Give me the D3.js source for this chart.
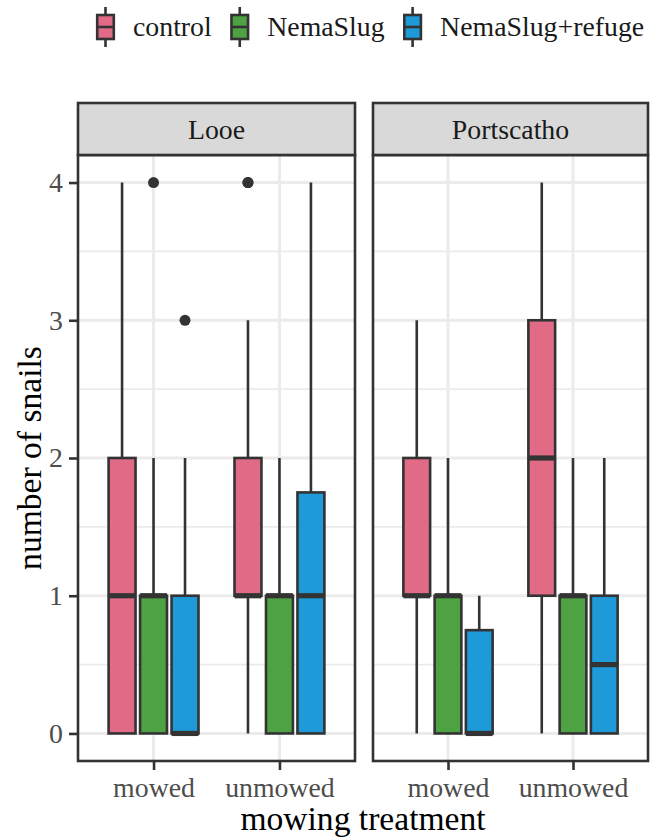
<!DOCTYPE html>
<html>
<head>
<meta charset="utf-8">
<script src="https://cdn.jsdelivr.net/npm/d3@7"></script>
<style>
  html, body { margin: 0; padding: 0; background: #fff; }
  svg { display: block; }
</style>
</head>
<body>
<svg id="chart" width="650" height="838" style="font-family:'Liberation Serif'"></svg>
<script>
// ---------------- data ----------------
const sites = ["Looe", "Portscatho"];
const mowingLevels = ["mowed", "unmowed"];
const treatments = ["control", "NemaSlug", "NemaSlug+refuge"];
const treatmentColors = ["#E16A86", "#4FA244", "#1D9AD7"];
const yTicks = [0, 1, 2, 3, 4];

// box order: site -> mowing -> treatment
const boxSite      = ["Looe","Looe","Looe","Looe","Looe","Looe",
                      "Portscatho","Portscatho","Portscatho","Portscatho","Portscatho","Portscatho"];
const boxMowing    = ["mowed","mowed","mowed","unmowed","unmowed","unmowed",
                      "mowed","mowed","mowed","unmowed","unmowed","unmowed"];
const boxTreatment = ["control","NemaSlug","NemaSlug+refuge","control","NemaSlug","NemaSlug+refuge",
                      "control","NemaSlug","NemaSlug+refuge","control","NemaSlug","NemaSlug+refuge"];
const whiskerLow   = [0, 0, 0,   0, 0, 0,    0, 0, 0,    0, 0, 0];
const quart1       = [0, 0, 0,   1, 0, 0,    1, 0, 0,    1, 0, 0];
const medians      = [1, 1, 0,   1, 1, 1,    1, 1, 0,    2, 1, 0.5];
const quart3       = [2, 1, 1,   2, 1, 1.75, 2, 1, 0.75, 3, 1, 1];
const whiskerHigh  = [4, 2, 2,   3, 2, 4,    3, 2, 1,    4, 2, 2];
const outliers     = [[], [4], [3], [4, 4], [], [], [], [], [], [], [], []];

// ---------------- layout ----------------
const FONT = "'Liberation Serif', 'Times New Roman', serif";
const svg = d3.select("#chart");
const panels = [{left: 78, right: 355}, {left: 373, right: 648}];
const panelTop = 155, panelBottom = 761, stripTop = 103;
const ink = "#333333";
const smallSize = 27.8, titleSize = 33.6;

const y = d3.scaleLinear().domain([-0.2, 4.2]).range([panelBottom, panelTop]);
const dodge = d3.scaleBand().domain(treatments).range([-0.375, 0.375]);
const boxW = 0.214;

sites.forEach((site, si) => {
  const p = panels[si];
  const x = d3.scaleLinear().domain([0.4, 2.6]).range([p.left, p.right]);
  const catX = d => x(mowingLevels.indexOf(d) + 1);
  const g = svg.append("g");

  g.selectAll(".ymin").data([0.5, 1.5, 2.5, 3.5]).enter()
    .append("line").attr("x1", p.left).attr("x2", p.right)
    .attr("y1", d => y(d)).attr("y2", d => y(d))
    .attr("stroke", "#EBEBEB").attr("stroke-width", 1.6);
  g.selectAll(".ymaj").data(yTicks).enter()
    .append("line").attr("x1", p.left).attr("x2", p.right)
    .attr("y1", d => y(d)).attr("y2", d => y(d))
    .attr("stroke", "#EBEBEB").attr("stroke-width", 3);
  g.selectAll(".xmaj").data(mowingLevels).enter()
    .append("line").attr("x1", catX).attr("x2", catX)
    .attr("y1", panelTop).attr("y2", panelBottom)
    .attr("stroke", "#EBEBEB").attr("stroke-width", 3);

  const idx = d3.range(boxSite.length).filter(i => boxSite[i] === site);
  idx.forEach(i => {
    const cx = x(mowingLevels.indexOf(boxMowing[i]) + 1 + dodge(boxTreatment[i]) + dodge.bandwidth() / 2);
    const half = (x(boxW) - x(0)) / 2;
    const col = treatmentColors[treatments.indexOf(boxTreatment[i])];
    g.append("line").attr("x1", cx).attr("x2", cx)
      .attr("y1", y(quart3[i])).attr("y2", y(whiskerHigh[i]))
      .attr("stroke", ink).attr("stroke-width", 2.6);
    g.append("line").attr("x1", cx).attr("x2", cx)
      .attr("y1", y(quart1[i])).attr("y2", y(whiskerLow[i]))
      .attr("stroke", ink).attr("stroke-width", 2.6);
    g.append("rect").attr("x", cx - half).attr("width", 2 * half)
      .attr("y", y(quart3[i])).attr("height", Math.max(0, y(quart1[i]) - y(quart3[i])))
      .attr("fill", col).attr("stroke", ink).attr("stroke-width", 2.6);
    g.append("line").attr("x1", cx - half).attr("x2", cx + half)
      .attr("y1", y(medians[i])).attr("y2", y(medians[i]))
      .attr("stroke", ink).attr("stroke-width", 5.2);
    g.selectAll(null).data(outliers[i]).enter().append("circle")
      .attr("cx", cx).attr("cy", d => y(d)).attr("r", 5.5).attr("fill", ink);
  });

  g.append("rect").attr("x", p.left).attr("y", panelTop)
    .attr("width", p.right - p.left).attr("height", panelBottom - panelTop)
    .attr("fill", "none").attr("stroke", ink).attr("stroke-width", 2.6);

  g.append("rect").attr("x", p.left).attr("y", stripTop)
    .attr("width", p.right - p.left).attr("height", panelTop - stripTop)
    .attr("fill", "#D9D9D9").attr("stroke", ink).attr("stroke-width", 2.6);
  g.append("text").attr("x", (p.left + p.right) / 2).attr("y", 139)
    .attr("text-anchor", "middle").attr("font-size", smallSize).attr("fill", "#1A1A1A")
    .style("font-family", FONT)
    .text(site);

  const xAxis = d3.axisBottom(d3.scalePoint().domain(mowingLevels)
      .range([catX("mowed"), catX("unmowed")]))
    .tickSize(9).tickPadding(7);
  const ax = svg.append("g").attr("transform", `translate(0,${panelBottom})`).call(xAxis);
  ax.attr("font-family", null).attr("font-size", null);
  ax.select(".domain").remove();
  ax.selectAll(".tick line").attr("stroke", ink).attr("stroke-width", 2.6);
  ax.selectAll(".tick text").attr("font-size", smallSize).attr("fill", "#4D4D4D")
    .style("font-family", FONT);
});

const yAxis = d3.axisLeft(y).tickValues(yTicks).tickFormat(d3.format("d")).tickSize(9).tickPadding(6);
const ay = svg.append("g").attr("transform", `translate(${panels[0].left},0)`).call(yAxis);
ay.attr("font-family", null).attr("font-size", null);
ay.select(".domain").remove();
ay.selectAll(".tick line").attr("stroke", ink).attr("stroke-width", 2.6);
ay.selectAll(".tick text").attr("font-size", smallSize).attr("fill", "#4D4D4D")
  .style("font-family", FONT);

svg.append("text").attr("x", (panels[0].left + panels[1].right) / 2).attr("y", 830)
  .attr("text-anchor", "middle").attr("font-size", titleSize).attr("fill", "#000")
  .style("font-family", FONT)
  .text("mowing treatment");
svg.append("text").attr("transform", `translate(41,${(panelTop + panelBottom) / 2}) rotate(-90)`)
  .attr("text-anchor", "middle").attr("font-size", titleSize).attr("fill", "#000")
  .style("font-family", FONT)
  .text("number of snails");

// legend
const leg = svg.append("g");
const keyCy = 27;
let cursor = 105.5;
treatments.forEach((t, i) => {
  const kg = leg.append("g");
  kg.append("line").attr("x1", cursor).attr("x2", cursor).attr("y1", 7).attr("y2", 47)
    .attr("stroke", ink).attr("stroke-width", 2.6);
  kg.append("rect").attr("x", cursor - 8.3).attr("y", 15).attr("width", 16.6).attr("height", 24)
    .attr("fill", treatmentColors[i]).attr("stroke", ink).attr("stroke-width", 2.6);
  kg.append("line").attr("x1", cursor - 8.3).attr("x2", cursor + 8.3).attr("y1", keyCy).attr("y2", keyCy)
    .attr("stroke", ink).attr("stroke-width", 2.6);
  const tx = kg.append("text").attr("x", cursor + 27.5).attr("y", keyCy).attr("dy", "0.33em")
    .attr("font-size", smallSize).attr("fill", "#1A1A1A").style("font-family", FONT).text(t);
  const w = tx.node().getComputedTextLength();
  cursor = cursor + 27.5 + w + 28;
});
</script>
</body>
</html>
